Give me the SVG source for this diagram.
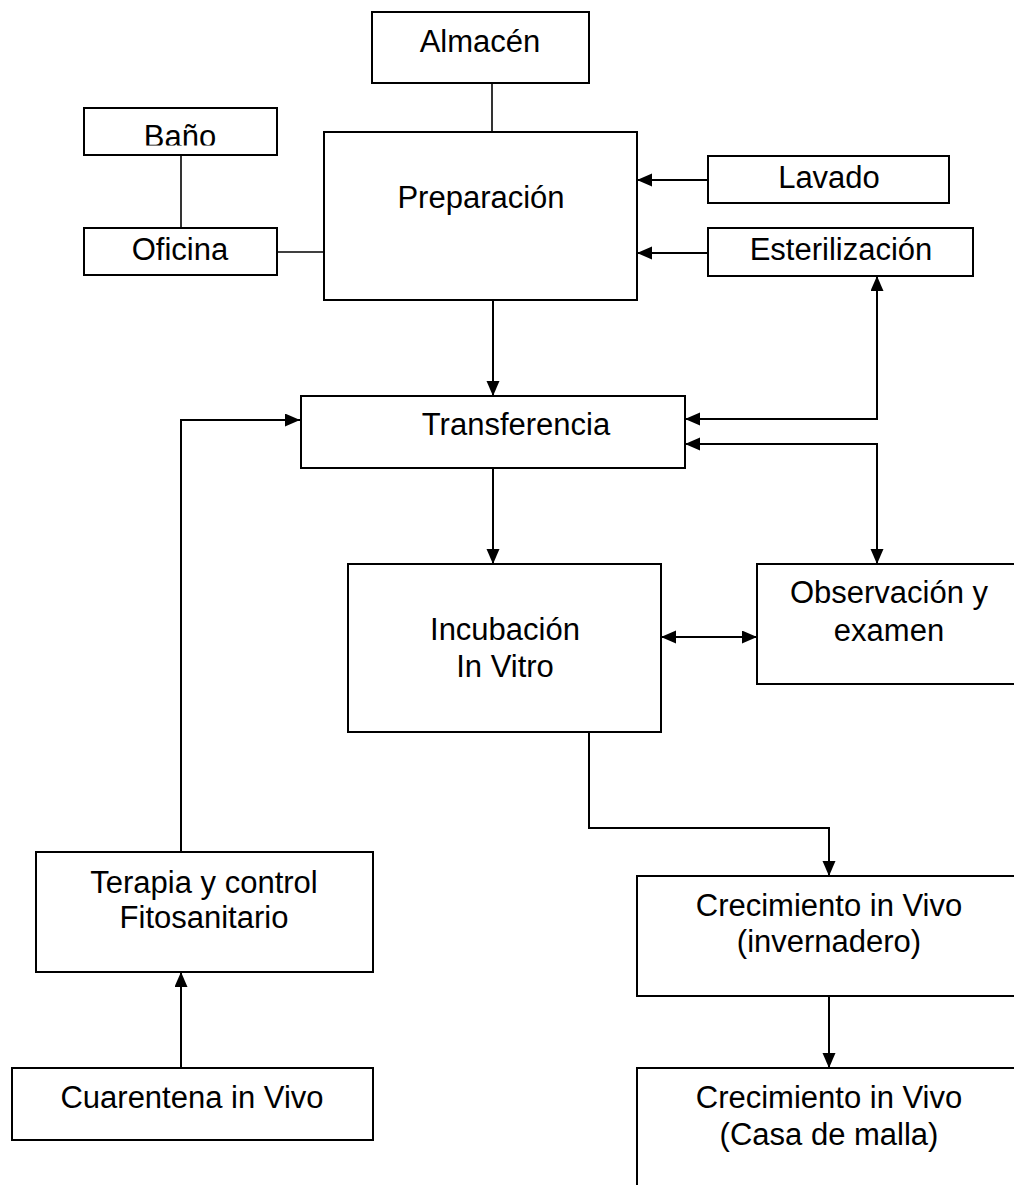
<svg xmlns="http://www.w3.org/2000/svg" width="1014" height="1185" viewBox="0 0 1014 1185">
<style>
.box{fill:#fff;stroke:#000;stroke-width:2}
.t{font-family:"Liberation Sans",Arial,sans-serif;font-size:31px;fill:#000;text-anchor:middle}
.ln{fill:none;stroke:#000;stroke-width:1.6}
.ar{fill:none;stroke:#000;stroke-width:2;marker-end:url(#ah)}
.ar2{fill:none;stroke:#000;stroke-width:2;marker-end:url(#ah);marker-start:url(#ah)}
</style>
<defs>
<marker id="ah" markerUnits="userSpaceOnUse" markerWidth="16" markerHeight="14" refX="15" refY="6.5" orient="auto-start-reverse">
<path d="M0,0 L15,6.5 L0,13 z" fill="#000"/>
</marker>
<clipPath id="bclip"><rect x="84" y="108" width="193" height="37.5"/></clipPath>
</defs>
<rect width="1014" height="1185" fill="#fff"/>
<g id="connectors">
<path class="ln" d="M492,83 V132"/>
<path class="ln" d="M181,155 V228"/>
<path class="ln" d="M277,252 H324"/>
<path class="ar" d="M708,180 H637"/>
<path class="ar" d="M708,253 H637"/>
<path class="ar" d="M493,300 V396"/>
<path class="ar2" d="M685,419 H877 V276"/>
<path class="ar2" d="M685,444 H877 V564"/>
<path class="ar" d="M493,468 V564"/>
<path class="ar2" d="M661,637 H757"/>
<path class="ar" d="M181,852 V420 H300"/>
<path class="ar" d="M181,1068 V972"/>
<path class="ar" d="M589,732 V828 H829 V876"/>
<path class="ar" d="M829,996 V1068"/>
</g>
<g id="almacen"><rect class="box" x="372" y="12" width="217" height="71"/><text class="t" x="480" y="52">Almacén</text></g>
<g id="bano"><rect class="box" x="84" y="108" width="193" height="47"/><text class="t" x="180" y="147" clip-path="url(#bclip)">Baño</text></g>
<g id="oficina"><rect class="box" x="84" y="228" width="193" height="47"/><text class="t" x="180" y="260">Oficina</text></g>
<g id="preparacion"><rect class="box" x="324" y="132" width="313" height="168"/><text class="t" x="481" y="208">Preparación</text></g>
<g id="lavado"><rect class="box" x="708" y="156" width="241" height="47"/><text class="t" x="829" y="188">Lavado</text></g>
<g id="esterilizacion"><rect class="box" x="708" y="228" width="265" height="48"/><text class="t" x="841" y="260">Esterilización</text></g>
<g id="transferencia"><rect class="box" x="301" y="396" width="384" height="72"/><text class="t" x="516" y="435">Transferencia</text></g>
<g id="incubacion"><rect class="box" x="348" y="564" width="313" height="168"/><text class="t" x="505" y="640">Incubación</text><text class="t" x="505" y="677">In Vitro</text></g>
<g id="observacion"><rect class="box" x="757" y="564" width="264" height="120"/><text class="t" x="889" y="603">Observación y</text><text class="t" x="889" y="641">examen</text></g>
<g id="terapia"><rect class="box" x="36" y="852" width="337" height="120"/><text class="t" x="204" y="893">Terapia y control</text><text class="t" x="204" y="928">Fitosanitario</text></g>
<g id="cuarentena"><rect class="box" x="12" y="1068" width="361" height="72"/><text class="t" x="192" y="1108">Cuarentena in Vivo</text></g>
<g id="crecimiento1"><rect class="box" x="637" y="876" width="384" height="120"/><text class="t" x="829" y="916">Crecimiento in Vivo</text><text class="t" x="829" y="952">(invernadero)</text></g>
<g id="crecimiento2"><rect class="box" x="637" y="1068" width="384" height="130"/><text class="t" x="829" y="1108">Crecimiento in Vivo</text><text class="t" x="829" y="1145">(Casa de malla)</text></g>
</svg>
